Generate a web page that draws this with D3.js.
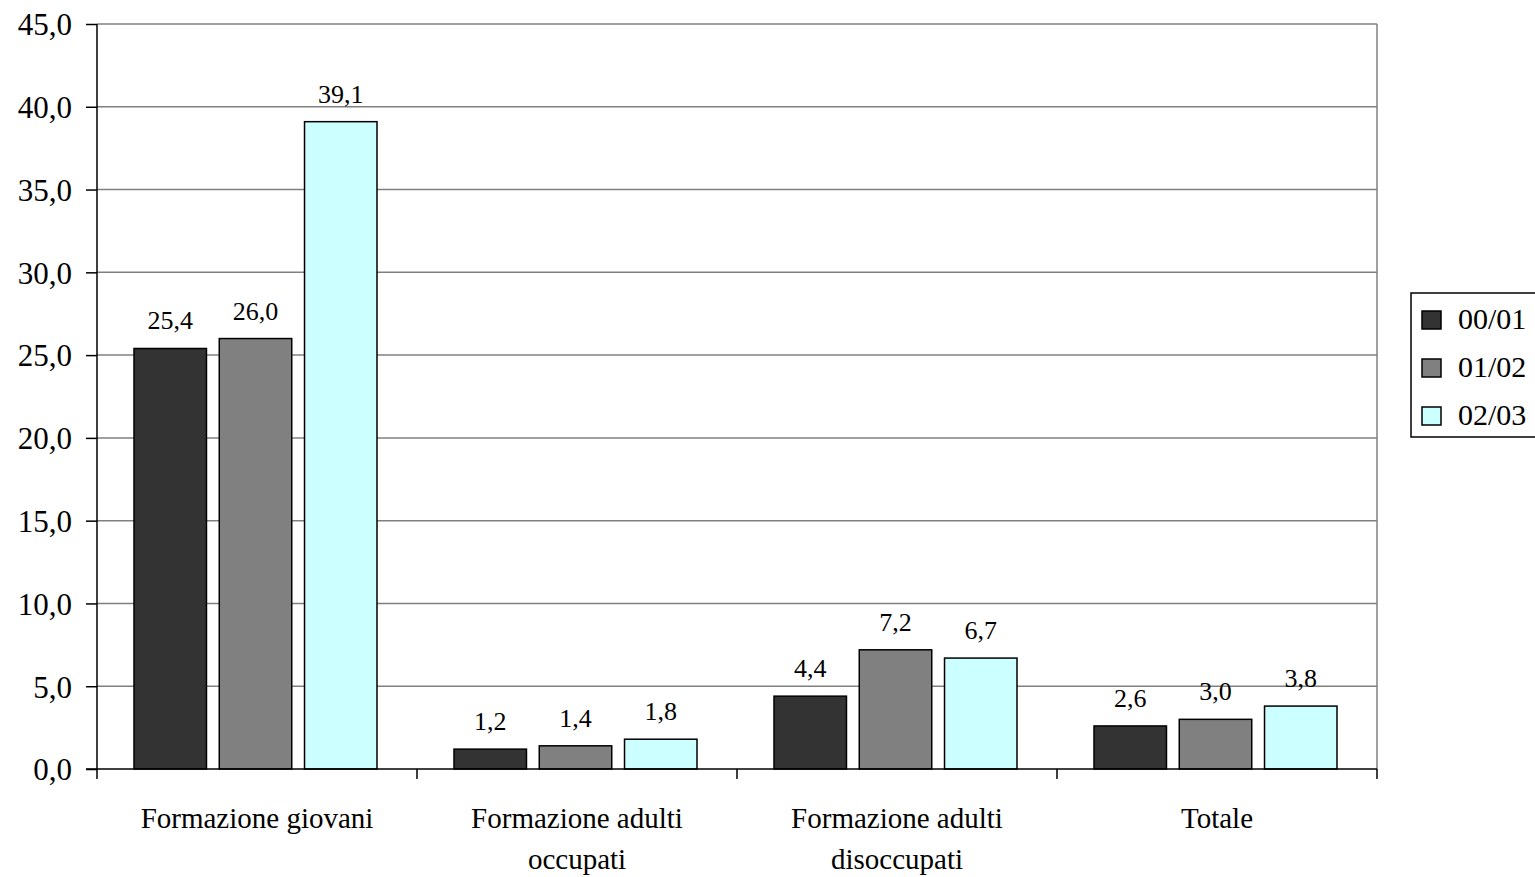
<!DOCTYPE html>
<html>
<head>
<meta charset="utf-8">
<script src="https://cdn.jsdelivr.net/npm/d3@7"></script>
<style>
body { margin: 0; background: #fff; }
svg { font-family: "Liberation Serif", "Times New Roman", serif; }
</style>
</head>
<body>
<svg width="1535" height="877"></svg>
<script>
"use strict";

const categories = [["Formazione giovani"], ["Formazione adulti", "occupati"], ["Formazione adulti", "disoccupati"], ["Totale"]];
const series_names = ["00/01", "01/02", "02/03"];
const series_colors = ["#333333", "#808080", "#CCFFFF"];
const values_0001 = [25.4, 1.2, 4.4, 2.6];
const values_0102 = [26.0, 1.4, 7.2, 3.0];
const values_0203 = [39.1, 1.8, 6.7, 3.8];
const y_ticks = [0, 5, 10, 15, 20, 25, 30, 35, 40, 45];

const all_values = [values_0001, values_0102, values_0203];
const fmt = v => v.toFixed(1).replace(".", ",");

const plot_left = 97, plot_right = 1377, plot_top = 24, plot_bottom = 769;

const svg = d3.select("svg");

const x = d3.scaleBand()
    .domain(d3.range(categories.length))
    .range([plot_left, plot_right]);

const x_inner = d3.scaleBand()
    .domain(d3.range(series_names.length))
    .range([37, 280])
    .paddingInner(0.15);

const y = d3.scaleLinear()
    .domain([0, 45])
    .range([plot_bottom, plot_top]);

// grid lines
svg.append("g")
    .selectAll("line")
    .data(y_ticks.filter(t => t > 0))
    .enter().append("line")
    .attr("x1", plot_left)
    .attr("x2", plot_right)
    .attr("y1", d => y(d))
    .attr("y2", d => y(d))
    .attr("stroke", "#808080")
    .attr("stroke-width", 1.5);

// right border
svg.append("line")
    .attr("x1", plot_right).attr("x2", plot_right)
    .attr("y1", plot_top).attr("y2", plot_bottom)
    .attr("stroke", "#808080")
    .attr("stroke-width", 1.5);

// bars
const group = svg.selectAll(".group")
    .data(categories)
    .enter().append("g")
    .attr("class", "group")
    .attr("transform", (d, i) => `translate(${x(i)},0)`);

group.each(function (d, ci) {
    const g = d3.select(this);
    all_values.forEach((vals, si) => {
        const v = vals[ci];
        g.append("rect")
            .attr("x", x_inner(si))
            .attr("y", y(v))
            .attr("width", x_inner.bandwidth())
            .attr("height", y(0) - y(v))
            .attr("fill", series_colors[si])
            .attr("stroke", "#000")
            .attr("stroke-width", 1.5);
        g.append("text")
            .attr("x", x_inner(si) + x_inner.bandwidth() / 2)
            .attr("y", y(v) - 19)
            .attr("text-anchor", "middle")
            .attr("font-size", 26)
            .text(fmt(v));
    });
});

// y axis
const yAxis = d3.axisLeft(y)
    .tickValues(y_ticks)
    .tickSize(11)
    .tickPadding(14)
    .tickFormat(fmt);

const ya = svg.append("g")
    .attr("transform", `translate(${plot_left},0)`)
    .call(yAxis);
ya.select(".domain").attr("stroke", "#000").attr("stroke-width", 1.5).attr("d", `M0,${plot_top}V${plot_bottom}`);
ya.selectAll(".tick line").attr("stroke", "#000").attr("stroke-width", 1.5);
ya.selectAll(".tick text")
    .attr("font-size", 31)
    .attr("font-family", "Liberation Serif, serif")
    .attr("fill", "#000")
    .attr("dy", "0.35em");

// x axis
const xa = svg.append("g")
    .attr("transform", `translate(0,${plot_bottom})`);
xa.append("line")
    .attr("x1", plot_left - 11).attr("x2", plot_right)
    .attr("y1", 0).attr("y2", 0)
    .attr("stroke", "#000").attr("stroke-width", 1.5);
xa.selectAll(".xtick")
    .data(d3.range(categories.length + 1))
    .enter().append("line")
    .attr("x1", i => i < categories.length ? x(i) : plot_right)
    .attr("x2", i => i < categories.length ? x(i) : plot_right)
    .attr("y1", 0).attr("y2", 10)
    .attr("stroke", "#000").attr("stroke-width", 1.5);

xa.selectAll(".xlabel")
    .data(categories)
    .enter().append("text")
    .attr("text-anchor", "middle")
    .attr("font-size", 29)
    .attr("transform", (d, i) => `translate(${x(i) + x.bandwidth() / 2},59)`)
    .each(function (lines) {
        const t = d3.select(this);
        lines.forEach((l, li) => {
            t.append("tspan").attr("x", 0).attr("dy", li === 0 ? 0 : 41).text(l);
        });
    });

// legend
const legend = svg.append("g").attr("transform", "translate(1411,293)");
legend.append("rect")
    .attr("x", 0).attr("y", 0)
    .attr("width", 150).attr("height", 144)
    .attr("fill", "#fff")
    .attr("stroke", "#000")
    .attr("stroke-width", 1.5);
series_names.forEach((name, i) => {
    legend.append("rect")
        .attr("x", 11).attr("y", 18 + i * 48)
        .attr("width", 19).attr("height", 18)
        .attr("fill", series_colors[i])
        .attr("stroke", "#000")
        .attr("stroke-width", 1.5);
    legend.append("text")
        .attr("x", 47).attr("y", 36 + i * 48)
        .attr("font-size", 30)
        .text(name);
});
</script>
</body>
</html>
